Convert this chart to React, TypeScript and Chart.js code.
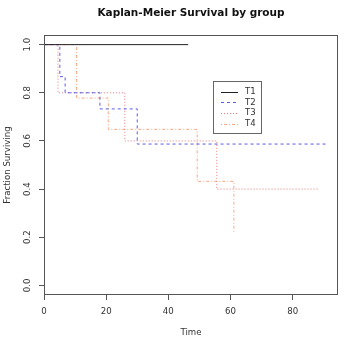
import React, { useEffect, useRef } from "react";
import { Chart, registerables } from "chart.js";

Chart.register(...registerables);

// ---- data ----
const TITLE = "Kaplan-Meier Survival by group";
const X_LABEL = "Time";
const Y_LABEL = "Fraction Surviving";
const groups = ["T1", "T2", "T3", "T4"];

const t1Times = [0, 46.4];
const t1Surv = [1, 1];
const t2Times = [0, 5.1, 6.8, 18.0, 30.0, 91.1];
const t2Surv = [1, 0.867, 0.8, 0.733, 0.587, 0.587];
const t3Times = [0, 4.5, 26.0, 55.6, 88.6];
const t3Surv = [1, 0.8, 0.6, 0.4, 0.4];
const t4Times = [0, 10.5, 20.7, 49.3, 61.1];
const t4Surv = [1, 0.778, 0.648, 0.432, 0.216];

const xTicks = [0, 20, 40, 60, 80];
const yTicks = [0, 0.2, 0.4, 0.6, 0.8, 1.0];
const xRange = [0, 94.6];
const yRange = [-0.04, 1.04];

// ---- styles ----
const FONT = "DejaVu Sans";
const lineColors = ["#222222", "#5a5ae8", "#e67a7a", "#f5a882"];
const lineDashes: number[][] = [[], [3, 3], [1, 2], [1, 2, 3, 2]];
const TEXT = "#333333";
const FRAME = "#555555";

const toPoints = (xs: number[], ys: number[]) => xs.map((x, i) => ({ x, y: ys[i] }));

const frameAndLegend = {
  id: "frameAndLegend",
  afterDatasetsDraw(chart: any) {
    const { ctx, chartArea: a } = chart;
    ctx.save();
    ctx.strokeStyle = FRAME;
    ctx.lineWidth = 1;
    ctx.strokeRect(a.left + 0.5, a.top + 0.5, a.right - a.left - 1, a.bottom - a.top - 1);

    // legend
    const bx = 213.5, by = 81.5, bw = 48, bh = 52;
    ctx.fillStyle = "#ffffff";
    ctx.fillRect(bx, by, bw, bh);
    ctx.strokeStyle = "#666666";
    ctx.strokeRect(bx, by, bw, bh);
    const rowY0 = 91.7, rowStep = 10.7;
    chart.data.datasets.forEach((ds: any, i: number) => {
      const y = Math.round(rowY0 + i * rowStep) + 0.5;
      ctx.strokeStyle = ds.borderColor;
      ctx.lineWidth = 1;
      ctx.setLineDash(ds.borderDash || []);
      ctx.beginPath();
      ctx.moveTo(221, y);
      ctx.lineTo(238, y);
      ctx.stroke();
      ctx.setLineDash([]);
      ctx.fillStyle = TEXT;
      ctx.font = `8.6px "${FONT}"`;
      ctx.textAlign = "left";
      ctx.textBaseline = "middle";
      ctx.fillText(ds.label, 245, rowY0 + i * rowStep);
    });
    ctx.restore();
  },
};

export default function App() {
  const ref = useRef<HTMLCanvasElement | null>(null);

  useEffect(() => {
    if (!ref.current) return;
    const series = [
      toPoints(t1Times, t1Surv),
      toPoints(t2Times, t2Surv),
      toPoints(t3Times, t3Surv),
      toPoints(t4Times, t4Surv),
    ];
    const tickFont = { family: FONT, size: 8.6 };
    const chart = new Chart(ref.current, {
      type: "line",
      data: {
        datasets: series.map((data, i) => ({
          label: groups[i],
          data,
          borderColor: lineColors[i],
          borderDash: lineDashes[i],
          borderWidth: 1,
          pointRadius: 0,
          fill: false,
          stepped: true,
          tension: 0,
        })),
      },
      options: {
        animation: false,
        responsive: false,
        devicePixelRatio: 1,
        layout: { padding: { left: 0, right: 8, top: 0, bottom: 0 } },
        plugins: {
          legend: { display: false },
          tooltip: { enabled: false },
          title: {
            display: true,
            text: TITLE,
            fullSize: false,
            color: "#111111",
            font: { family: FONT, size: 10.5, weight: "bold" },
            padding: { top: 7, bottom: 15.4 },
          },
        },
        scales: {
          x: {
            type: "linear",
            min: xRange[0],
            max: xRange[1],
            afterBuildTicks: (s: any) => {
              s.ticks = xTicks.map((value) => ({ value }));
            },
            afterFit: (s: any) => {
              s.height = 48;
            },
            ticks: {
              autoSkip: false,
              maxRotation: 0,
              padding: 7,
              color: TEXT,
              font: tickFont,
              callback: (v: any) => String(v),
            },
            grid: { display: true, drawOnChartArea: false, drawTicks: true, tickLength: 5, color: FRAME },
            border: { display: false },
            title: {
              display: true,
              text: X_LABEL,
              color: TEXT,
              font: tickFont,
              padding: { top: 0, bottom: 5 },
            },
          },
          y: {
            type: "linear",
            min: yRange[0],
            max: yRange[1],
            afterBuildTicks: (s: any) => {
              s.ticks = yTicks.map((value) => ({ value }));
            },
            afterFit: (s: any) => {
              s.width = 44;
            },
            ticks: {
              autoSkip: false,
              minRotation: 90,
              maxRotation: 90,
              crossAlign: "center",
              padding: 4,
              color: TEXT,
              font: tickFont,
              callback: (v: any) => Number(v).toFixed(1),
            },
            grid: { display: true, drawOnChartArea: false, drawTicks: true, tickLength: 5, color: FRAME },
            border: { display: false },
            title: {
              display: true,
              text: Y_LABEL,
              color: TEXT,
              font: tickFont,
              padding: { top: 3, bottom: 0 },
            },
          },
        },
      } as any,
      plugins: [frameAndLegend],
    });
    return () => chart.destroy();
  }, []);

  return (
    <div style={{ position: "fixed", left: 0, top: 0, width: 346, height: 343, background: "#fff" }}>
      <canvas ref={ref} width={346} height={343} style={{ display: "block" }} />
    </div>
  );
}
